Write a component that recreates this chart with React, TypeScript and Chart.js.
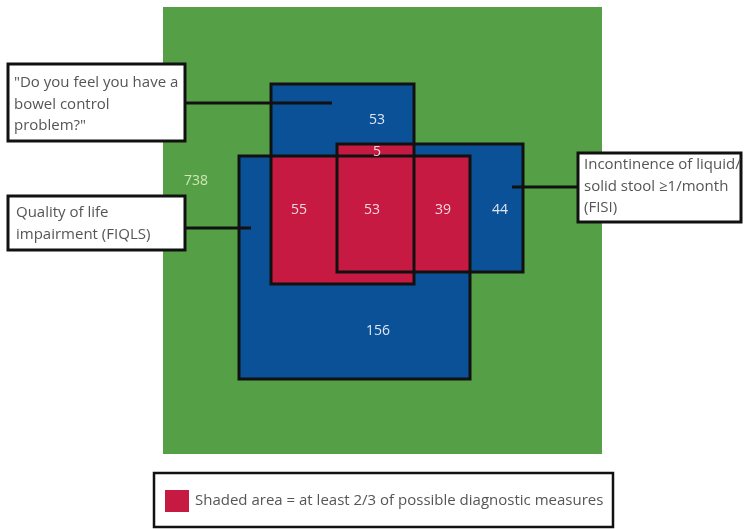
import React, { useEffect, useRef } from "react";
import { Chart, registerables } from "chart.js";
Chart.register(...registerables);

// Diagram coordinate system (units = reference pixels)
const W = 744;
const H = 529;

// Universe and the three criteria rectangles: [x0, y0, x1, y1]
const universeRect = [163, 7, 602, 454];
const bowelRect = [271, 84, 414, 284]; // "Do you feel you have a bowel control problem?"
const fiqlsRect = [239, 156, 470, 379]; // Quality of life impairment (FIQLS)
const fisiRect = [337, 144, 523, 272]; // Incontinence (FISI)

// Region counts
const regionLabels = ["738", "53", "5", "55", "53", "39", "44", "156"];
const regionX = [196, 377, 377, 299, 372, 443, 500, 378];
const regionY = [181, 120, 152, 210, 210, 210, 210, 331];
const regionKind = ["universe", "blue", "red", "red", "red", "red", "blue", "blue"];

// Callout boxes
const boxRects = [
  [8, 64, 185, 141],
  [8, 196, 185, 250],
  [578, 153, 741, 222],
];
const boxLines = [
  ['"Do you feel you have a', "bowel control", 'problem?"'],
  ["Quality of life", "impairment (FIQLS)"],
  ["Incontinence of liquid/", "solid stool \u22651/month", "(FISI)"],
];
const boxTextX = [14, 16, 584];
const boxTextY = [83, 213, 165];
const lineGap = 21.5;
const leaders = [
  [185, 103, 332, 103],
  [185, 228, 251, 228],
  [512, 187, 578, 187],
];

// Legend
const legendRect = [154, 473, 613, 527];
const legendSwatch = [165, 490, 189, 512];
const legendText = "Shaded area = at least 2/3 of possible diagnostic measures";

const GREEN = "#55a046";
const BLUE = "#0b5197";
const RED = "#c61a42";

function rectPts(r: number[]) {
  const mx = (r[0] + r[2]) / 2;
  return [
    { x: mx, y: r[1] },
    { x: r[2], y: r[1] },
    { x: r[2], y: r[3] },
    { x: r[0], y: r[3] },
    { x: r[0], y: r[1] },
    { x: mx, y: r[1] },
  ];
}
function inter(a: number[], b: number[]) {
  return [Math.max(a[0], b[0]), Math.max(a[1], b[1]), Math.min(a[2], b[2]), Math.min(a[3], b[3])];
}

function filled(r: number[], color: string, border = 0) {
  return {
    data: rectPts(r),
    showLine: true,
    fill: "shape",
    backgroundColor: color,
    borderColor: border ? "#111" : color,
    borderWidth: border,
    pointRadius: 0,
    tension: 0,
    clip: false,
  };
}
function outline(r: number[], width = 3) {
  return {
    data: rectPts(r),
    showLine: true,
    fill: false,
    borderColor: "#111",
    borderWidth: width,
    pointRadius: 0,
    tension: 0,
    clip: false,
  };
}

export default function App() {
  const ref = useRef<HTMLCanvasElement>(null);
  useEffect(() => {
    const datasets: any[] = [];
    datasets.push(filled(universeRect, GREEN));
    datasets.push(filled(bowelRect, BLUE));
    datasets.push(filled(fiqlsRect, BLUE));
    datasets.push(filled(fisiRect, BLUE));
    datasets.push(filled(inter(bowelRect, fiqlsRect), RED));
    datasets.push(filled(inter(bowelRect, fisiRect), RED));
    datasets.push(filled(inter(fiqlsRect, fisiRect), RED));
    datasets.push(outline(fiqlsRect));
    datasets.push(outline(bowelRect));
    datasets.push(outline(fisiRect));
    leaders.forEach((l) =>
      datasets.push({
        data: [{ x: l[0], y: l[1] }, { x: l[2], y: l[3] }],
        showLine: true,
        fill: false,
        borderColor: "#111",
        borderWidth: 3,
        pointRadius: 0,
        clip: false,
      })
    );
    boxRects.forEach((r) => datasets.push(filled(r, "#ffffff", 3)));
    datasets.push(filled(legendRect, "#ffffff", 2.5));
    datasets.push(filled(legendSwatch, RED));
    // first dataset drawn first (higher order = drawn sooner)
    datasets.forEach((d, i) => (d.order = datasets.length - i));

    const textPlugin = {
      id: "texts",
      afterDatasetsDraw(chart: any) {
        const { ctx, scales } = chart;
        const px = (v: number) => scales.x.getPixelForValue(v);
        const py = (v: number) => scales.y.getPixelForValue(v);
        ctx.save();
        ctx.textBaseline = "middle";
        ctx.font = "14px 'Open Sans', sans-serif";
        ctx.textAlign = "center";
        regionLabels.forEach((t, i) => {
          const k = regionKind[i];
          ctx.fillStyle = k === "universe" ? "#cfe6b8" : k === "red" ? "#f6d7de" : "#dfe6f4";
          ctx.fillText(t, px(regionX[i]), py(regionY[i]));
        });
        ctx.textAlign = "left";
        ctx.fillStyle = "#555";
        ctx.font = "15px 'Open Sans', sans-serif";
        boxLines.forEach((lines, i) => {
          lines.forEach((ln, j) => {
            ctx.fillText(ln, px(boxTextX[i]), py(boxTextY[i] + j * lineGap));
          });
        });
        ctx.fillText(legendText, px(195), py(501));
        ctx.restore();
      },
    };

    const chart = new Chart(ref.current!, {
      type: "scatter",
      data: { datasets },
      options: {
        animation: false,
        responsive: false,
        maintainAspectRatio: false,
        layout: { padding: 0 },
        plugins: { legend: { display: false }, tooltip: { enabled: false }, title: { display: false } },
        events: [],
        scales: {
          x: { type: "linear", min: 0, max: W, display: false },
          y: { type: "linear", min: 0, max: H, reverse: true, display: false },
        },
      },
      plugins: [textPlugin],
    });
    return () => chart.destroy();
  }, []);

  return (
    <div style={{ position: "fixed", left: 0, top: 0, width: W, height: H, background: "#fff" }}>
      <canvas ref={ref} width={W} height={H} style={{ display: "block", width: W, height: H }} />
    </div>
  );
}
